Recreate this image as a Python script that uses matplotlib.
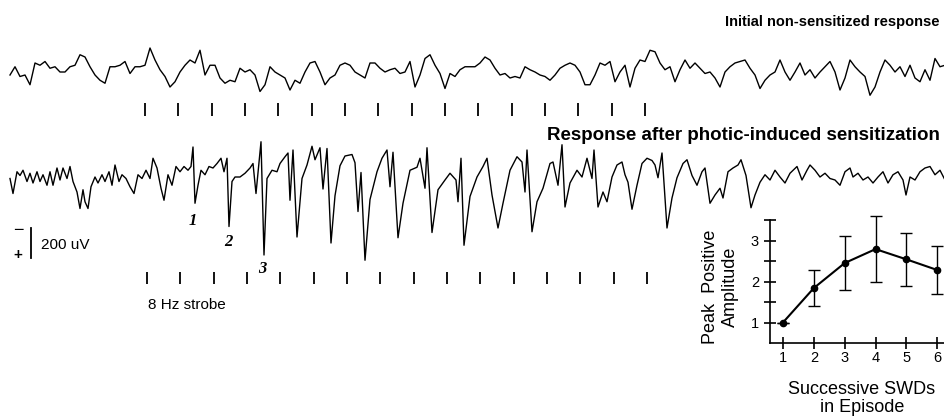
import numpy as np
import matplotlib
matplotlib.use('Agg')
from matplotlib import pyplot as plt
from matplotlib import transforms

plt.rcParams['font.family'] = ['Liberation Sans', 'DejaVu Sans']

sample_ms = 3.75          # one sample = 3.75 ms
strobe_period_ms = 125    # 8 Hz strobe
n_flashes = 16

# initial (non-sensitized) EEG, uV, every 5th sample, + is down
eeg1 = [
    20, -35, 30, 20, 85, -60, -45, -70, -25, -35,
    0, 0, -35, -45, -115, -100, -35, 20, 55, 75,
    -35, -35, -45, -70, 10, -35, -35, -45, -160, -80,
    -15, 30, 100, 65, 0, -45, -80, -60, -145, 20,
    -45, -45, 40, 75, 55, 65,
    -25, 0, -15, 20, 130, 85, -35, 0, 20, 40,
    120, 55, 75, 0, -60, -70, 0, 85, 40, 20,
    -45, -60, -45, 0, 20, 40, -60, -60, -25, 0,
    -15, -25, 10, 0, -70, 100, 20, -90, -115, -45,
    10, 110, 10, 30, -15, -35, -35,
    -35, -60, -100, -80, -25, 20, 10, 40, 30, 40,
    -35, -15, 0, 20, 30, 55, 20, -25, -45, -60,
    -45, 0, 85, 85, 20, -60, -45, -70, 65, 0,
    -45, 100, -25, -80, -70, -145, -135, -60, -15, -35,
    65, -15, -80, -25, -60, -25, 10,
    0, 40, 100, 0, -35, -60, -70, -80, -25, 20,
    110, 55, 20, 0, -80, 0, 55, 0, -60, 20,
    -15, 40, 0, -35, -70, 0, 120, 40, -80, -35,
    0, 30, 155, 100, 0, -80, -45, 0, -35, 30,
    -45, 40, 65, -15, 55, -90, -35, -45,
]
onset1_ms = 506

# EEG after photic-induced sensitization: sample index / uV turning points
idx2 = [
    0, 3, 7, 10, 13, 17, 20, 23, 27, 30, 33, 37, 40, 43, 47, 50, 53, 57, 60, 63,
    67, 70, 73, 75, 78, 81, 85, 88, 92, 95, 99, 102, 105, 109, 112, 116, 120, 124, 128, 132,
    136, 140, 143, 147, 151, 154, 158, 162, 166, 170, 174, 178, 181, 183, 185, 188, 191, 195, 199, 203,
    207, 211, 214, 217, 219, 222, 225,
    230, 235, 240, 243, 246, 251, 254, 257, 262, 267, 270, 275, 278, 280, 283, 287, 292, 297, 302, 305,
    310, 313, 317, 321, 325, 330, 335, 342, 345, 348, 351, 355, 360, 367, 372, 377, 380, 383, 388, 393,
    400, 407, 410, 415, 417, 422, 428, 435, 440, 446, 448, 451, 454, 460, 467, 473, 477, 482, 488, 493,
    500, 507, 512, 515, 517, 522, 527, 533, 540, 543, 548, 552, 555, 560, 567, 572, 577, 582, 584, 588,
    593, 597, 602, 607, 612, 615, 618, 622, 627, 632, 637, 642, 645, 648, 652, 657, 662, 667, 673, 677,
    682, 687, 692, 695, 700, 705, 710, 713, 718, 723, 728, 731, 736, 741, 745, 750, 755, 760, 765, 770,
    775, 780, 787, 792, 797, 800, 805, 810, 815, 820, 825, 830, 835, 840, 843, 848, 853, 858, 863, 868,
    873, 878, 883, 888, 893, 896, 900, 905, 910, 915, 920, 925, 930, 935,
]
eeg2 = [
    -10, 90, -55, -30, -65, 10, -45, 20, -55, 10, -35, 35, -55, 35, -80, 0, -80, -10, -90, 10,
    80, 190, 65, 145, 190, 45, -20, 20, -35, 10, -55, 35, -100, 10, -35, -10, 45, 90, -35, -10,
    -65, -10, -145, -80, 55, 135, -35, 35, -90, -55, -90, -65, -90, -220, 155, 35, -65, -35, -90, -80,
    -110, -145, -55, -145, 310, 10, -20,
    -20, -45, -80, -110, 90, -255, 500, -10, -65, -55, -110, -155, -180, 135, -200, 380, -10, -100, -225, -135,
    -215, 60, -210, 420, 105, -95, -160, -170, -115, 210, -50, 535, 130, -55, -145, -200, 45, -185, 385, 155,
    -65, -85, -145, 55, -215, 350, 65, 0, -45, 0, 145, -145, 435, 110, -20, -90, -145, 100, 320, 155,
    -65, -155, -120, 80, -200, 345, 145, 55, -110, -120, 35, -235, 180, 20, -65, -20, -145, -10, -200, 180,
    80, 145, -20, -100, -120, -35, 15, 195, 35, -110, -145, -130, -100, -15, -180, 320, 120, -15, -110, -135,
    -30, 35, -55, -80, 155, 100, 55, 120, -55, -80, -100, -135, -30, 185, 100, 15, -35, 0, -65, -20,
    20, -45, -90, 0, -65, -100, -65, -20, -45, -10, 0, 35, -55, -80, -20, -45, 0, -20, 20, -20,
    -55, 20, -35, -55, 0, 100, -20, 0, -55, -80, -90, -35, -65, 0,
]
onset2_ms = 514

# inset: peak positive amplitude of successive SWDs
swd = [1, 2, 3, 4, 5, 6]
amp = [1.0, 1.84, 2.45, 2.79, 2.54, 2.28]
amp_err = [0.0, 0.43, 0.65, 0.81, 0.64, 0.58]

fig = plt.figure(figsize=(9.45, 4.2), dpi=100)
ax = fig.add_axes([0, 0, 1, 1])
uv_per_px = 200 / 30.0
ax.set_xlim(-10 * sample_ms, 935 * sample_ms)
ax.set_ylim(420 * uv_per_px, 0)     # + (positive) downwards
ax.axis('off')

base1 = 72 * uv_per_px
base2 = 180 * uv_per_px

t1 = np.arange(len(eeg1)) * 5 * sample_ms
ax.plot(t1, base1 + np.array(eeg1), color='k', lw=1.0)
t2 = np.array(idx2) * sample_ms
ax.plot(t2, base2 + np.array(eeg2), color='k', lw=1.0)

# strobe flashes
blend = transforms.blended_transform_factory(ax.transData, ax.transAxes)
flashes1 = onset1_ms + np.arange(n_flashes) * strobe_period_ms
flashes2 = onset2_ms + np.arange(n_flashes) * strobe_period_ms
ax.vlines(flashes1, 0.724, 0.755, color='k', lw=1.3, transform=blend)
ax.vlines(flashes2, 0.324, 0.352, color='k', lw=1.3, transform=blend)

# 200 uV scale bar
bar_t = 21 * sample_ms
bar_top = 228 * uv_per_px
ax.plot([bar_t, bar_t], [bar_top, bar_top + 200], color='k', lw=1.3)


def fpos(x, y):
    return x / 945.0, 1 - y / 420.0


ax.text(*fpos(18, 230), '\u2212', transform=ax.transAxes, ha='center', va='center', fontsize=13)
ax.text(*fpos(18, 255), '+', transform=ax.transAxes, ha='center', va='center', fontsize=11, weight='bold')
ax.text(*fpos(41, 245), '200 uV', transform=ax.transAxes, ha='left', va='center', fontsize=11)
ax.text(*fpos(148, 305), '8 Hz strobe', transform=ax.transAxes, ha='left', va='center', fontsize=11)

for lab, x, y in [('1', 193, 221), ('2', 228, 242), ('3', 262, 269)]:
    ax.text(*fpos(x, y), lab, transform=ax.transAxes, ha='center', va='center',
            fontsize=12, family='Liberation Serif', style='italic', weight='bold')

ax.text(*fpos(940, 22), 'Initial non-sensitized response', transform=ax.transAxes,
        ha='right', va='center', fontsize=10.5, weight='bold')
ax.text(*fpos(940, 135), 'Response after photic-induced sensitization', transform=ax.transAxes,
        ha='right', va='center', fontsize=13.5, weight='bold')

# inset
ax2 = fig.add_axes([770 / 945, 77 / 420, 175 / 945, 123 / 420])
ax2.errorbar(swd, amp, yerr=amp_err, color='k', lw=1.5, marker='o', ms=4.5,
             capsize=4, elinewidth=1, capthick=1, clip_on=False)
ax2.set_xlim(0.58, 6.25)
ax2.set_ylim(0.5, 3.5)
ax2.spines['top'].set_visible(False)
ax2.spines['right'].set_visible(False)
ax2.spines['left'].set_linewidth(1.2)
ax2.spines['bottom'].set_linewidth(1.2)
ax2.set_xticks(swd)
ax2.set_yticks([1, 2, 3])
ax2.set_yticks([1.5, 2.5, 3.5], minor=True)
ax2.tick_params(which='both', direction='inout', length=9, width=1.2, labelsize=10.5)
ax2.tick_params(axis='x', pad=1.5)
ax2.patch.set_alpha(0)
ax2.set_ylabel('Peak  Positive\nAmplitude', fontsize=13, linespacing=1.25)
ax2.yaxis.set_label_coords(-0.177, 0.455)
ax2.set_xlabel('Successive SWDs\nin Episode', fontsize=13, linespacing=1.1)
ax2.xaxis.set_label_coords(0.526, -0.31)

plt.savefig('out.png', dpi=100)
